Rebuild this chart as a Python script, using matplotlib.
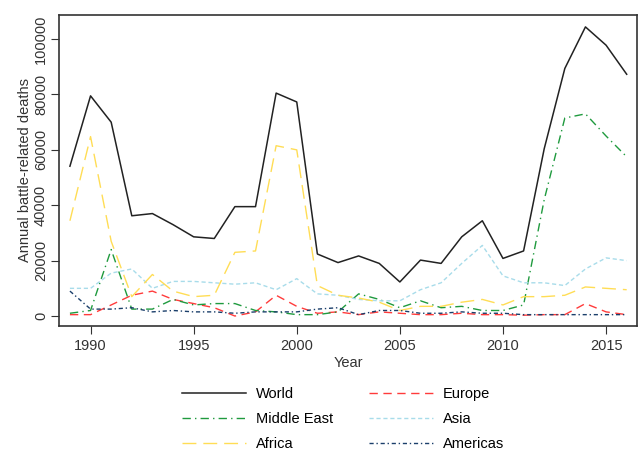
import matplotlib
matplotlib.use("Agg")
from matplotlib import pyplot as plt
import numpy as np

plt.rcParams['font.family'] = ['Liberation Sans', 'DejaVu Sans']

years = np.arange(1989, 2017)

# annual battle-related deaths by region
world = [54100, 79500, 70000, 36200, 37000, 33000, 28600, 28000, 39500, 39500,
         80500, 77300, 22400, 19300, 21700, 19000, 12300, 20200, 19000, 28600,
         34400, 20800, 23500, 60400, 89400, 104400, 97800, 87300]
europe = [500, 500, 4000, 7500, 9000, 6000, 4500, 3000, 0, 1500,
          7500, 3500, 1000, 1500, 500, 1500, 1000, 500, 500, 1000,
          500, 500, 300, 500, 500, 4500, 1500, 500]
middle_east = [1000, 2000, 24000, 2500, 2500, 6000, 4000, 4500, 4500, 2000,
               1500, 500, 500, 1500, 8000, 6000, 3000, 5500, 3000, 3500,
               2000, 2000, 4000, 42000, 71500, 73000, 65000, 57500]
asia = [10000, 10000, 15500, 17000, 10000, 12500, 12500, 12000, 11500, 12000,
        9500, 13500, 8000, 7500, 6000, 5500, 5500, 9500, 12000, 19000,
        25500, 14500, 12000, 12000, 11000, 17000, 21000, 20000]
africa = [34400, 64800, 27000, 7000, 15000, 9000, 7000, 7500, 23000, 23500,
          61500, 60000, 11000, 7500, 6500, 5000, 2000, 3500, 3500, 5000,
          6000, 4000, 7000, 7000, 7500, 10500, 10000, 9500]
americas = [9000, 2500, 2500, 3000, 1500, 2000, 1500, 1500, 1000, 1500,
            1500, 1500, 2500, 3000, 500, 2000, 2000, 1000, 1000, 1500,
            1000, 1000, 500, 500, 500, 500, 500, 500]

fig = plt.figure(figsize=(6.39, 4.51), dpi=100)
ax = fig.add_axes([59/639, 1 - 326/451, (637-59)/639, (326-15)/451])

l_world, = ax.plot(years, world, color='#222222', lw=1.1, ls='-', label='World')
l_eu, = ax.plot(years, europe, color='#ff3b3b', lw=1.0, ls=(0, (6, 4)), label='Europe')
l_me, = ax.plot(years, middle_east, color='#1f9a3e', lw=1.0, ls=(0, (6, 3, 1, 3)), label='Middle East')
l_as, = ax.plot(years, asia, color='#a8dcea', lw=1.0, ls=(0, (3, 2)), label='Asia')
l_af, = ax.plot(years, africa, color='#ffdd55', lw=1.0, ls=(0, (10, 5)), label='Africa')
l_am, = ax.plot(years, americas, color='#1b3f6b', lw=1.0, ls=(0, (3, 2, 1, 2)), label='Americas')

ax.set_xlim(1988.47, 2016.5)
ax.set_ylim(-3600, 108700)
ax.set_xticks(np.arange(1990, 2016, 5))
ax.set_yticks(np.arange(0, 100001, 20000))
ax.set_yticklabels([str(v) for v in range(0, 100001, 20000)], rotation=90, va='center')
ax.tick_params(labelsize=10.5, length=6, width=0.8, color='#333333', labelcolor='#333333')
ax.tick_params(axis='y', pad=2)
for s in ax.spines.values():
    s.set_color('#333333')
    s.set_linewidth(1.2)

ax.set_xlabel('Year', fontsize=10.5, color='#333333', labelpad=2)
ax.set_ylabel('Annual battle-related deaths', fontsize=10.5, color='#333333', labelpad=1)

# column-major fill, so order gives World/Europe, Middle East/Asia, Africa/Americas rows
handles = [l_world, l_me, l_af, l_eu, l_as, l_am]
fig.legend(handles, [h.get_label() for h in handles],
           loc='upper left', bbox_to_anchor=(182/639, 1 - 387/451), ncol=2, frameon=False,
           fontsize=10.5, handlelength=4.4, handletextpad=0.7, columnspacing=2.4,
           labelspacing=0.75, borderpad=0, borderaxespad=0)

fig.savefig('out.png', dpi=100)
